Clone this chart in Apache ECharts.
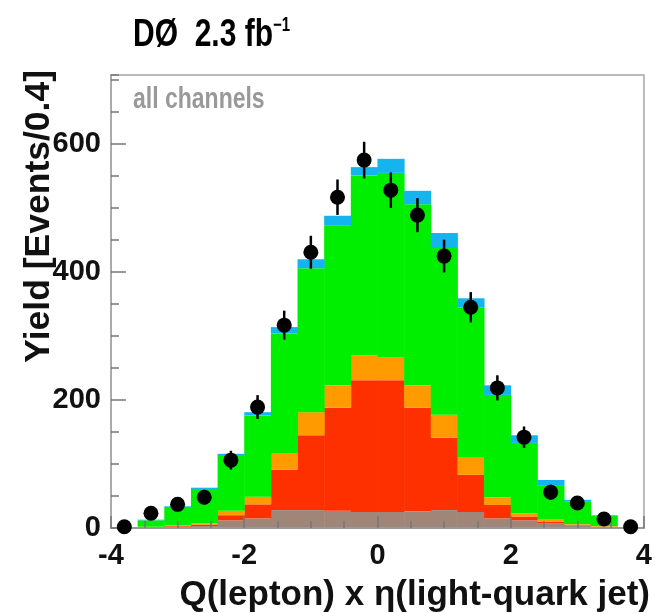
<!DOCTYPE html>
<html>
<head>
<meta charset="utf-8">
<script src="https://cdn.jsdelivr.net/npm/echarts@6/dist/echarts.min.js"></script>
<style>
  html, body { margin: 0; padding: 0; background: #fff; }
  #chart { width: 655px; height: 613px; }
</style>
</head>
<body>
<div id="chart"></div>
<script>
// bin centres, width 0.4
const binCenters = [-3.8, -3.4, -3.0, -2.6, -2.2, -1.8, -1.4, -1.0, -0.6, -0.2,
                    0.2, 0.6, 1.0, 1.4, 1.8, 2.2, 2.6, 3.0, 3.4, 3.8];
const binWidth = 0.4;

// stacked contributions, bottom to top
const brown  = [0, 1, 2, 3, 12, 15, 28, 28, 27, 25, 25, 26, 28, 25, 15, 12, 7, 4, 2, 0];
const red    = [0, 0, 1, 2, 8, 22, 63, 117, 161, 206, 206, 162, 113, 58, 21, 6, 3, 1, 0, 0];
const orange = [0, 1, 1, 2, 7, 12, 26, 36, 35, 39, 36, 35, 36, 28, 12, 5, 4, 1, 1, 0];
const green  = [0, 10, 29, 54, 87, 127, 187, 225, 250, 281, 288, 283, 262, 234, 160, 110, 53, 35, 16, 1];
const cyan   = [0, 1, 1, 2, 2, 5, 10, 14, 15, 13, 22, 21, 22, 14, 15, 12, 8, 3, 1, 0];

// data points and their errors
const dataY   = [2, 23, 37, 48, 106, 189, 317, 431, 517, 575, 528, 489, 425, 345, 219, 142, 56, 39, 14, 2];
const dataErr = [1, 5, 6, 7, 10, 14, 18, 21, 23, 24, 23, 22, 21, 19, 15, 12, 7, 6, 4, 1];

const xTicks = [-4, -2, 0, 2, 4];
const yTicks = [0, 200, 400, 600];

const layers = [
  { name: 'brown',  values: brown,  color: '#9f8679' },
  { name: 'red',    values: red,    color: '#ff3000' },
  { name: 'orange', values: orange, color: '#ff9a00' },
  { name: 'green',  values: green,  color: '#00ef00' },
  { name: 'cyan',   values: cyan,   color: '#14b4ee' }
];

const font = 'Liberation Sans, Arial, sans-serif';

const chart = echarts.init(document.getElementById('chart'));

// running stack
const base = binCenters.map(() => 0);
const barSeries = layers.map((layer) => {
  const data = binCenters.map((c, i) => {
    const lo = base[i];
    base[i] += layer.values[i];
    return [c - binWidth / 2, c + binWidth / 2, lo, base[i]];
  });
  return {
    type: 'custom',
    name: layer.name,
    clip: true,
    z: 2,
    itemStyle: { color: layer.color },
    encode: { x: [0, 1], y: [2, 3] },
    data: data,
    renderItem: (params, api) => {
      const p0 = api.coord([api.value(0), api.value(3)]);
      const p1 = api.coord([api.value(1), api.value(2)]);
      return {
        type: 'rect',
        shape: { x: p0[0], y: p0[1], width: p1[0] - p0[0] + 0.5, height: p1[1] - p0[1] },
        style: { fill: api.visual('color') }
      };
    }
  };
});

const pointSeries = {
  type: 'custom',
  name: 'data',
  clip: false,
  z: 5,
  encode: { x: 0, y: 1 },
  data: binCenters.map((c, i) => [c, dataY[i], dataErr[i]]),
  renderItem: (params, api) => {
    const x = api.value(0), y = api.value(1), e = api.value(2);
    const c = api.coord([x, y]);
    const lo = api.coord([x, y - e]);
    const hi = api.coord([x, y + e]);
    return {
      type: 'group',
      children: [
        { type: 'line', shape: { x1: c[0], y1: lo[1] + 3, x2: c[0], y2: hi[1] - 3 },
          style: { stroke: '#000', lineWidth: 2.5 } },
        { type: 'circle', shape: { cx: c[0], cy: c[1], r: 7.5 }, style: { fill: '#000' } }
      ]
    };
  }
};

const tickLabel = { fontFamily: font, fontWeight: 'bold', fontSize: 29, color: '#111' };

chart.setOption({
  animation: false,
  backgroundColor: '#fff',
  grid: { left: 111, right: 11, top: 75, bottom: 85, show: true, borderColor: '#bbb', borderWidth: 2 },
  xAxis: {
    type: 'value', min: -4, max: 4, interval: 2, z: 4,
    axisLine: { onZero: false, lineStyle: { color: '#999', width: 2 } },
    axisTick: { inside: true, length: 12, lineStyle: { color: '#777', width: 1.5 } },
    minorTick: { show: true, splitNumber: 4, length: 7, lineStyle: { color: '#777', width: 1.5 } },
    splitLine: { show: false },
    axisLabel: Object.assign({ margin: 13, formatter: (v) => xTicks.includes(v) ? String(v) : '' }, tickLabel)
  },
  yAxis: [
    {
      type: 'value', min: 0, max: 708, interval: 200, z: 4,
      axisLine: { show: true, onZero: false, lineStyle: { color: '#aaa', width: 2 } },
      axisTick: { show: true, inside: true, length: 15, lineStyle: { color: '#777', width: 1.5 } },
      splitLine: { show: false },
      axisLabel: Object.assign({ margin: 10, showMaxLabel: false,
        formatter: (v) => yTicks.includes(v) ? String(v) : '' }, tickLabel)
    },
    {
      type: 'value', min: 0, max: 708, interval: 50, position: 'left', z: 4,
      axisLine: { show: false, onZero: false },
      axisTick: { show: true, inside: true, length: 8, lineStyle: { color: '#777', width: 1.5 } },
      splitLine: { show: false },
      axisLabel: { show: false }
    }
  ],
  graphic: [
    {
      type: 'text', x: 133, y: 55, scaleY: 1.3,
      style: {
        text: '{a|DØ  2.3 fb}{s|−1}',
        verticalAlign: 'bottom',
        rich: {
          a: { fontFamily: font, fontWeight: 'bold', fontSize: 30, fill: '#000', lineHeight: 30 },
          s: { fontFamily: font, fontWeight: 'bold', fontSize: 15, fill: '#000', verticalAlign: 'top', lineHeight: 30, padding: [0, 0, 14, 0] }
        }
      }
    },
    {
      type: 'text', x: 133, y: 100, scaleY: 1.25,
      style: { text: 'all channels', fontFamily: font, fontWeight: 'bold', fontSize: 23, fill: '#999',
               align: 'left', verticalAlign: 'middle' }
    },
    {
      type: 'text', x: 39, y: 70, rotation: Math.PI / 2,
      style: { text: 'Yield [Events/0.4]', fontFamily: font, fontWeight: 'bold', fontSize: 35.5, fill: '#111',
               align: 'right', verticalAlign: 'middle' }
    },
    {
      type: 'text', x: 650, y: 595,
      style: { text: 'Q(lepton) x η(light-quark jet)', fontFamily: font, fontWeight: 'bold', fontSize: 35, fill: '#111',
               align: 'right', verticalAlign: 'middle' }
    }
  ],
  series: barSeries.concat([pointSeries])
});
</script>
</body>
</html>
